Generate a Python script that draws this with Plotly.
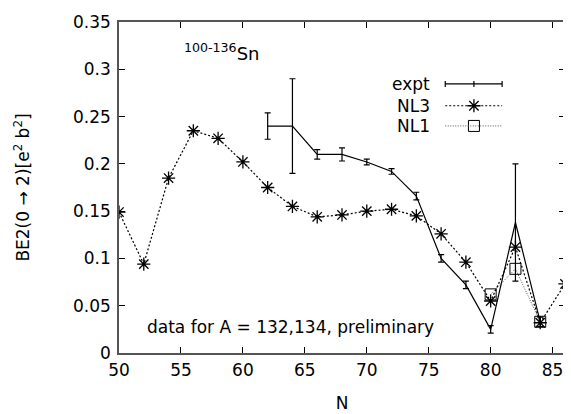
import plotly.graph_objects as go

N_nl3 = [50, 52, 54, 56, 58, 60, 62, 64, 66, 68, 70, 72, 74, 76, 78, 80, 82, 84, 86]
BE2_nl3 = [0.149, 0.094, 0.185, 0.235, 0.227, 0.202, 0.175, 0.155, 0.144, 0.146,
           0.150, 0.152, 0.145, 0.126, 0.096, 0.055, 0.112, 0.032, 0.073]

N_expt = [62, 64, 66, 68, 70, 72, 74, 76, 78, 80, 82, 84]
BE2_expt = [0.240, 0.240, 0.210, 0.210, 0.202, 0.192, 0.166, 0.100, 0.072, 0.025, 0.138, 0.033]
err_expt = [0.014, 0.050, 0.005, 0.007, 0.003, 0.003, 0.004, 0.004, 0.004, 0.004, 0.062, 0.005]

N_nl1 = [80, 82, 84]
BE2_nl1 = [0.062, 0.089, 0.033]

x_ticks = [50, 55, 60, 65, 70, 75, 80, 85]
y_ticks = [0, 0.05, 0.1, 0.15, 0.2, 0.25, 0.3, 0.35]
y_labels = ["0", "0.05", "0.1", "0.15", "0.2", "0.25", "0.3", "0.35"]

FONT = "DejaVu Sans, Liberation Sans, Arial, sans-serif"
FS = 17

fig = go.Figure()

fig.add_trace(go.Scatter(
    x=N_nl1, y=BE2_nl1, mode="lines+markers", name="NL1",
    line=dict(color="#555555", width=1, dash="1px,1.5px"),
    marker=dict(symbol="square-open", size=11, color="black", line=dict(width=1)),
))
fig.add_trace(go.Scatter(
    x=N_nl3, y=BE2_nl3, mode="lines+markers", name="NL3",
    line=dict(color="black", width=1.2, dash="2px,2px"),
    marker=dict(symbol="asterisk-open", size=11, color="black", line=dict(width=1.3, color="black")),
))
fig.add_trace(go.Scatter(
    x=N_expt, y=BE2_expt, mode="lines", name="expt",
    line=dict(color="black", width=1.2),
    error_y=dict(type="data", array=err_expt, visible=True, color="black", thickness=1.2, width=3),
))

# Legend drawn manually (text right-aligned, sample on the right, like gnuplot)
LX0, LX1, LXC = 0.7315, 0.859, 0.7958
leg_items = [("expt", 0.813), ("NL3", 0.747), ("NL1", 0.686)]
for name, yp in leg_items:
    fig.add_annotation(xref="paper", yref="paper", x=0.701, y=yp, text=name,
                       showarrow=False, xanchor="right", yanchor="middle",
                       font=dict(family=FONT, size=FS, color="black"))
# expt sample
fig.add_shape(type="line", xref="paper", yref="paper", x0=LX0, x1=LX1, y0=0.813, y1=0.813,
              line=dict(color="black", width=1.2))
for xp in [LX0, LXC, LX1]:
    fig.add_shape(type="line", xref="paper", yref="paper", x0=xp, x1=xp, y0=0.804, y1=0.822,
                  line=dict(color="black", width=1.2))
# NL3 sample
fig.add_shape(type="line", xref="paper", yref="paper", x0=LX0, x1=LX1, y0=0.747, y1=0.747,
              line=dict(color="black", width=1.2, dash="2px,2px"))
# NL1 sample
fig.add_shape(type="line", xref="paper", yref="paper", x0=LX0, x1=LX1, y0=0.686, y1=0.686,
              line=dict(color="#555555", width=1, dash="1px,1.5px"))
fig.add_trace(go.Scatter(x=[LXC], y=[0.747], xaxis="x2", yaxis="y2", mode="markers",
                         showlegend=False, hoverinfo="skip",
                         marker=dict(symbol="asterisk-open", size=11, color="black",
                                     line=dict(width=1.3, color="black"))))
fig.add_trace(go.Scatter(x=[LXC], y=[0.686], xaxis="x2", yaxis="y2", mode="markers",
                         showlegend=False, hoverinfo="skip",
                         marker=dict(symbol="square-open", size=11, color="black",
                                     line=dict(width=1))))

fig.add_annotation(xref="x", yref="y", x=55.05, y=0.318, showarrow=False,
                   text="<sup>100-136</sup>Sn", xanchor="left", yanchor="middle",
                   font=dict(family=FONT, size=FS + 1, color="black"))
fig.add_annotation(xref="x", yref="y", x=52.09, y=0.027, showarrow=False,
                   text="data for A = 132,134, preliminary", xanchor="left", yanchor="middle",
                   font=dict(family=FONT, size=FS, color="black"))

axis_common = dict(showgrid=False, zeroline=False, ticks="inside", ticklen=6,
                   tickcolor="black", linecolor="#555555", linewidth=1.5, mirror="ticks",
                   showline=True, ticklabeloverflow="allow",
                   tickfont=dict(family=FONT, size=FS, color="black"))

# page body has an 8px margin: shift the figure to compensate
fig.update_layout(
    width=563, height=406,
    margin=dict(l=111, r=4, t=10, b=61),
    paper_bgcolor="white", plot_bgcolor="white",
    showlegend=False,
    xaxis=dict(range=[50, 86], tickvals=x_ticks, ticklabelstandoff=1,
               title=dict(text="N", font=dict(family=FONT, size=FS, color="black"), standoff=18),
               **axis_common),
    yaxis=dict(range=[0, 0.35], tickvals=y_ticks, ticktext=y_labels, ticklabelstandoff=3,
               title=dict(text="BE2(0 → 2)[e<sup>2</sup> b<sup>2</sup>]",
                          font=dict(family=FONT, size=FS, color="black"), standoff=39),
               **axis_common),
    xaxis2=dict(range=[0, 1], overlaying="x", visible=False, showticklabels=False, fixedrange=True),
    yaxis2=dict(range=[0, 1], overlaying="y", visible=False, showticklabels=False, fixedrange=True),
)

fig.write_html("out.html")
